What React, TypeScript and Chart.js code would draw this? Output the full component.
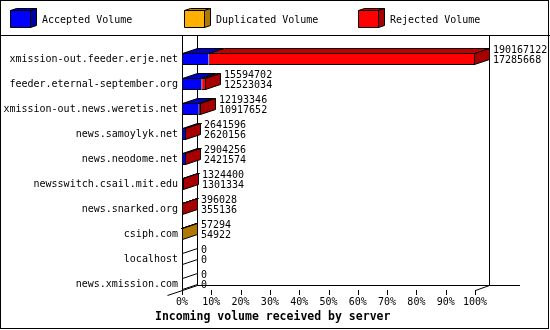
import React, { useEffect, useRef } from 'react';
import { Chart, registerables } from 'chart.js';

Chart.register(...registerables);

const servers = [
  'xmission-out.feeder.erje.net',
  'feeder.eternal-september.org',
  'xmission-out.news.weretis.net',
  'news.samoylyk.net',
  'news.neodome.net',
  'newsswitch.csail.mit.edu',
  'news.snarked.org',
  'csiph.com',
  'localhost',
  'news.xmission.com',
];
const totalVolume = [190167122, 15594702, 12193346, 2641596, 2904256, 1324400, 396028, 57294, 0, 0];
const acceptedVolume = [17285668, 12523034, 10917652, 2620156, 2421574, 1301334, 355136, 54922, 0, 0];
const duplicatedVolume = [0, 0, 0, 0, 0, 0, 0, 2372, 0, 0];
const rejectedVolume = [172881454, 3071668, 1275694, 21440, 482682, 23066, 40892, 0, 0, 0];
const seriesNames = ['Accepted Volume', 'Duplicated Volume', 'Rejected Volume'];
const axisTitle = 'Incoming volume received by server';

const frontColors = ['#0000ff', '#ffb000', '#ff0000'];
const topColors = ['#0000c0', '#c08400', '#c00000'];
const sideColors = ['#0000a8', '#b07800', '#a80000'];

const FONT = '"DejaVu Sans Mono", "Liberation Mono", monospace';
const DX = 15;
const DY = -5;
const BAR = 12;

function poly(ctx: CanvasRenderingContext2D, pts: number[][], fill: string) {
  ctx.beginPath();
  ctx.moveTo(pts[0][0], pts[0][1]);
  for (let i = 1; i < pts.length; i++) ctx.lineTo(pts[i][0], pts[i][1]);
  ctx.closePath();
  ctx.fillStyle = fill;
  ctx.fill();
  ctx.strokeStyle = '#000';
  ctx.lineWidth = 1;
  ctx.stroke();
}

function line(ctx: CanvasRenderingContext2D, x1: number, y1: number, x2: number, y2: number) {
  ctx.beginPath();
  ctx.moveTo(x1, y1);
  ctx.lineTo(x2, y2);
  ctx.stroke();
}

const threeD = {
  id: 'threeD',
  beforeDatasetsDraw(chart: any) {
    const { ctx } = chart;
    const x = chart.scales.x;
    const y = chart.scales.y;
    const n = chart.data.labels.length;
    const x0 = Math.round(x.getPixelForValue(0));
    const x100 = Math.round(x.getPixelForValue(100));
    const floorY = Math.round(y.getPixelForValue(n - 1) + BAR / 2);
    const topY = 35;
    ctx.save();
    ctx.strokeStyle = '#000';
    ctx.lineWidth = 1;
    // back walls
    line(ctx, x0 + DX + 0.5, topY, x0 + DX + 0.5, floorY + DY + 0.5);
    line(ctx, x100 + DX - 0.5, topY, x100 + DX - 0.5, floorY + DY + 0.5);
    // back floor
    line(ctx, x0 + DX, floorY + DY + 0.5, chart.width - 30, floorY + DY + 0.5);
    // front axis
    line(ctx, x0 + 0.5, topY, x0 + 0.5, floorY + 0.5);
    // floor diagonals
    line(ctx, x0 - DX + 0.5, floorY - DY + 0.5, x0 + DX + 0.5, floorY + DY + 0.5);
    line(ctx, x100 + 0.5, floorY + 0.5, x100 + DX - 0.5, floorY + DY + 0.5);
    // tick marks
    for (const t of x.ticks) {
      const px = Math.round(x.getPixelForValue(t.value)) + 0.5;
      line(ctx, px, floorY, px, floorY + 5);
    }
    ctx.restore();
  },
  afterDatasetsDraw(chart: any) {
    const { ctx } = chart;
    const x = chart.scales.x;
    const n = chart.data.labels.length;
    const x0 = Math.round(x.getPixelForValue(0));
    const metas = chart.data.datasets.map((_: any, i: number) => chart.getDatasetMeta(i));
    ctx.save();
    for (let j = 0; j < n; j++) {
      const cy = metas[0].data[j].y;
      const top = Math.round(cy - BAR / 2) + 0.5;
      const bottom = Math.round(cy + BAR / 2) - 0.5;
      let lastEnd = x0 + 0.5;
      let lastSide = '#ffffff';
      for (let d = 0; d < metas.length; d++) {
        const v = chart.data.datasets[d].data[j];
        if (!v) continue;
        const el = metas[d].data[j];
        const xs = Math.round(Math.min(el.base, el.x)) + 0.5;
        const xe = Math.round(Math.max(el.base, el.x)) - 0.5;
        poly(ctx, [[xs, top], [xs + DX, top + DY], [xe + DX, top + DY], [xe, top]], topColors[d]);
        lastEnd = Math.max(xe, x0 + 0.5);
        lastSide = sideColors[d];
      }
      poly(ctx, [[lastEnd, top], [lastEnd + DX, top + DY], [lastEnd + DX, bottom + DY], [lastEnd, bottom]], lastSide);
      ctx.fillStyle = '#000';
      ctx.font = '10px ' + FONT;
      ctx.textAlign = 'left';
      ctx.textBaseline = 'middle';
      const lx = Math.round(lastEnd + DX + 3);
      ctx.fillText(String(totalVolume[j]), lx, cy - 8.5);
      ctx.fillText(String(acceptedVolume[j]), lx, cy + 1.5);
    }
    ctx.restore();
  },
  afterDraw(chart: any) {
    const { ctx } = chart;
    const W = chart.width;
    const H = chart.height;
    ctx.save();
    ctx.strokeStyle = '#000';
    ctx.lineWidth = 1;
    // legend
    chart.data.datasets.forEach((ds: any, i: number) => {
      const lx = 10 + i * 174;
      const fy = 10;
      poly(ctx, [[lx + 0.5, fy + 0.5], [lx + 6.5, fy - 1.5], [lx + 26.5, fy - 1.5], [lx + 20.5, fy + 0.5]], topColors[i]);
      poly(ctx, [[lx + 20.5, fy + 0.5], [lx + 26.5, fy - 1.5], [lx + 26.5, fy + 15.5], [lx + 20.5, fy + 17.5]], sideColors[i]);
      poly(ctx, [[lx + 0.5, fy + 0.5], [lx + 20.5, fy + 0.5], [lx + 20.5, fy + 17.5], [lx + 0.5, fy + 17.5]], frontColors[i]);
      ctx.fillStyle = '#000';
      ctx.font = '10px ' + FONT;
      ctx.textAlign = 'left';
      ctx.textBaseline = 'middle';
      ctx.fillText(ds.label, lx + 32, 20);
    });
    // separator + frame
    line(ctx, 0, 35.5, W, 35.5);
    ctx.strokeRect(0.5, 0.5, W - 2, H - 2);
    // axis title
    ctx.fillStyle = '#000';
    ctx.font = 'bold 11.5px ' + FONT;
    ctx.textAlign = 'left';
    ctx.textBaseline = 'alphabetic';
    ctx.fillText(axisTitle, 155, 320);
    ctx.restore();
  },
};

export default function App() {
  const ref = useRef<HTMLCanvasElement>(null);
  useEffect(() => {
    const maxTotal = Math.max(...totalVolume);
    const pct = (arr: number[]) => arr.map((v) => (v / maxTotal) * 100);
    const series = [acceptedVolume, duplicatedVolume, rejectedVolume];
    const chart = new Chart(ref.current as HTMLCanvasElement, {
      type: 'bar',
      data: {
        labels: servers,
        datasets: series.map((s, i) => ({
          label: seriesNames[i],
          data: pct(s),
          backgroundColor: frontColors[i],
          borderColor: '#000',
          borderWidth: { top: 1, bottom: 1, left: 1, right: 0 },
          borderSkipped: false,
          barThickness: BAR,
          inflateAmount: 0,
        })),
      },
      options: {
        indexAxis: 'y',
        responsive: false,
        animation: false,
        devicePixelRatio: 1,
        events: [],
        layout: { padding: { top: 46.5, right: 75, bottom: 0, left: 0 } },
        plugins: { legend: { display: false }, tooltip: { enabled: false }, title: { display: false } },
        scales: {
          x: {
            stacked: true,
            min: 0,
            max: 100,
            grid: { display: false, drawTicks: false },
            border: { display: false },
            ticks: {
              stepSize: 10,
              padding: 0,
              color: '#000',
              font: { family: FONT, size: 10 },
              maxRotation: 0,
              autoSkip: false,
              callback: (v: any) => v + '%',
            },
            afterFit: (s: any) => {
              s.height = 33.5;
            },
          },
          y: {
            stacked: true,
            grid: { display: false, drawTicks: false },
            border: { display: false },
            ticks: { padding: 4, color: '#000', font: { family: FONT, size: 10 }, autoSkip: false },
            afterFit: (s: any) => {
              s.width = 182;
            },
          },
        },
      },
      plugins: [threeD],
    } as any);
    return () => chart.destroy();
  }, []);
  return (
    <div style={{ position: 'absolute', left: 0, top: 0, width: 550, height: 330, background: '#fff' }}>
      <canvas ref={ref} width={550} height={330} />
    </div>
  );
}
